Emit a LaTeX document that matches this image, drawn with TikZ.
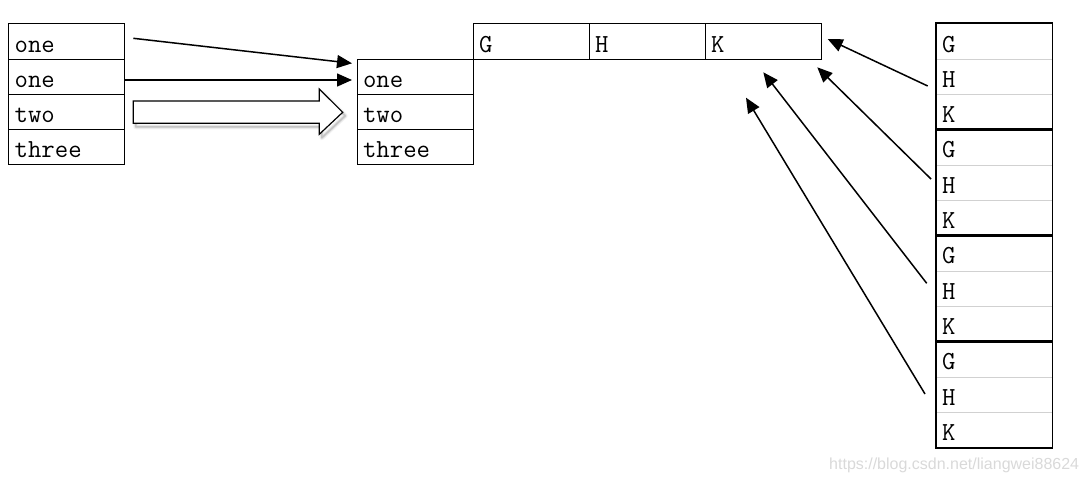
\documentclass[tikz,border=0pt]{standalone}
\usepackage{fontspec}
\newfontfamily\wmfont{Liberation Sans}
\usetikzlibrary{arrows.meta}
\begin{document}
\begin{tikzpicture}[x=1pt,y=-1pt,
  cell/.style={draw, line width=0.8pt, anchor=north west, minimum width=116pt, minimum height=35.2pt,
    inner xsep=6pt, inner ysep=0pt, text width=104pt, align=left, text height=28pt, text depth=6.6pt,
    font=\fontsize{26}{30}\selectfont\ttfamily},
  rcell/.style={cell, draw=none, minimum height=35.3pt},
  link/.style={line width=1.5pt, -{Triangle[length=15pt,width=13pt]}},
  bigarrow/.style={draw, line width=1.2pt, fill=white, line join=miter},
]
\useasboundingbox (0,0) rectangle (1086,482);

% left table
\node[cell] (a1) at (8.3,23.3) {one};
\node[cell] (a2) at (8.3,58.5) {one};
\node[cell] (a3) at (8.3,93.7) {two};
\node[cell] (a4) at (8.3,128.9) {three};

% middle table
\node[cell] (b1) at (356.7,58.5) {one};
\node[cell] (b2) at (356.7,93.7) {two};
\node[cell] (b3) at (356.7,128.9) {three};

% G H K row
\node[cell] (c1) at (472.7,23.3) {G};
\node[cell] (c2) at (588.7,23.3) {H};
\node[cell] (c3) at (704.7,23.3) {K};

% right table
\foreach \t [count=\i from 0] in {G,H,K,G,H,K,G,H,K,G,H,K}
  \node[rcell] (r\i) at (935.7,23.3+35.3*\i) {\t};
\foreach \i in {0,1,3,4,6,7,9,10}
  \draw[black!18, line width=0.8pt] (r\i.south west) -- (r\i.south east);
\foreach \i/\j in {0/2,3/5,6/8,9/11}
  \draw[line width=1.8pt] (r\i.north west) rectangle (r\j.south east);

% left arrows
\coordinate (t1) at (133.3,38.3);
\coordinate (h1) at (352,63.3);
\coordinate (t2) at (124.7,80);
\coordinate (h2) at (352,80);
\draw[link] (t1) -- (h1);
\draw[link] (t2) -- (h2);

% big hollow arrow with shadow
\begin{scope}[shift={(2.5,3.5)}]
  \foreach \w/\o in {5/0.05,3/0.08,1.5/0.12}
    \draw[black, opacity=\o, line width=\w pt, line join=round]
      (133.3,101) -- (319.3,101) -- (319.3,89) -- (342.7,112.3) -- (319.3,134.3) -- (319.3,123.3) -- (133.3,123.3) -- cycle;
\end{scope}
\path[bigarrow] (133.3,101) -- (319.3,101) -- (319.3,89) -- (342.7,112.3) -- (319.3,134.3) -- (319.3,123.3) -- (133.3,123.3) -- cycle;

% right arrows
\coordinate (s1) at (927.7,86);   \coordinate (e1) at (827.7,39);
\coordinate (s2) at (931,179);    \coordinate (e2) at (817.3,67.3);
\coordinate (s3) at (926.7,283.3);\coordinate (e3) at (763.3,72.3);
\coordinate (s4) at (925,394);    \coordinate (e4) at (746,97.7);
\draw[link] (s1) -- (e1);
\draw[link] (s2) -- (e2);
\draw[link] (s3) -- (e3);
\draw[link] (s4) -- (e4);

% watermark
\node[font=\wmfont\fontsize{16}{18}\selectfont, text=black!15, anchor=west, inner sep=0pt] (wm) at (829,465) {https://blog.csdn.net/liangwei88624};
\end{tikzpicture}
\end{document}
